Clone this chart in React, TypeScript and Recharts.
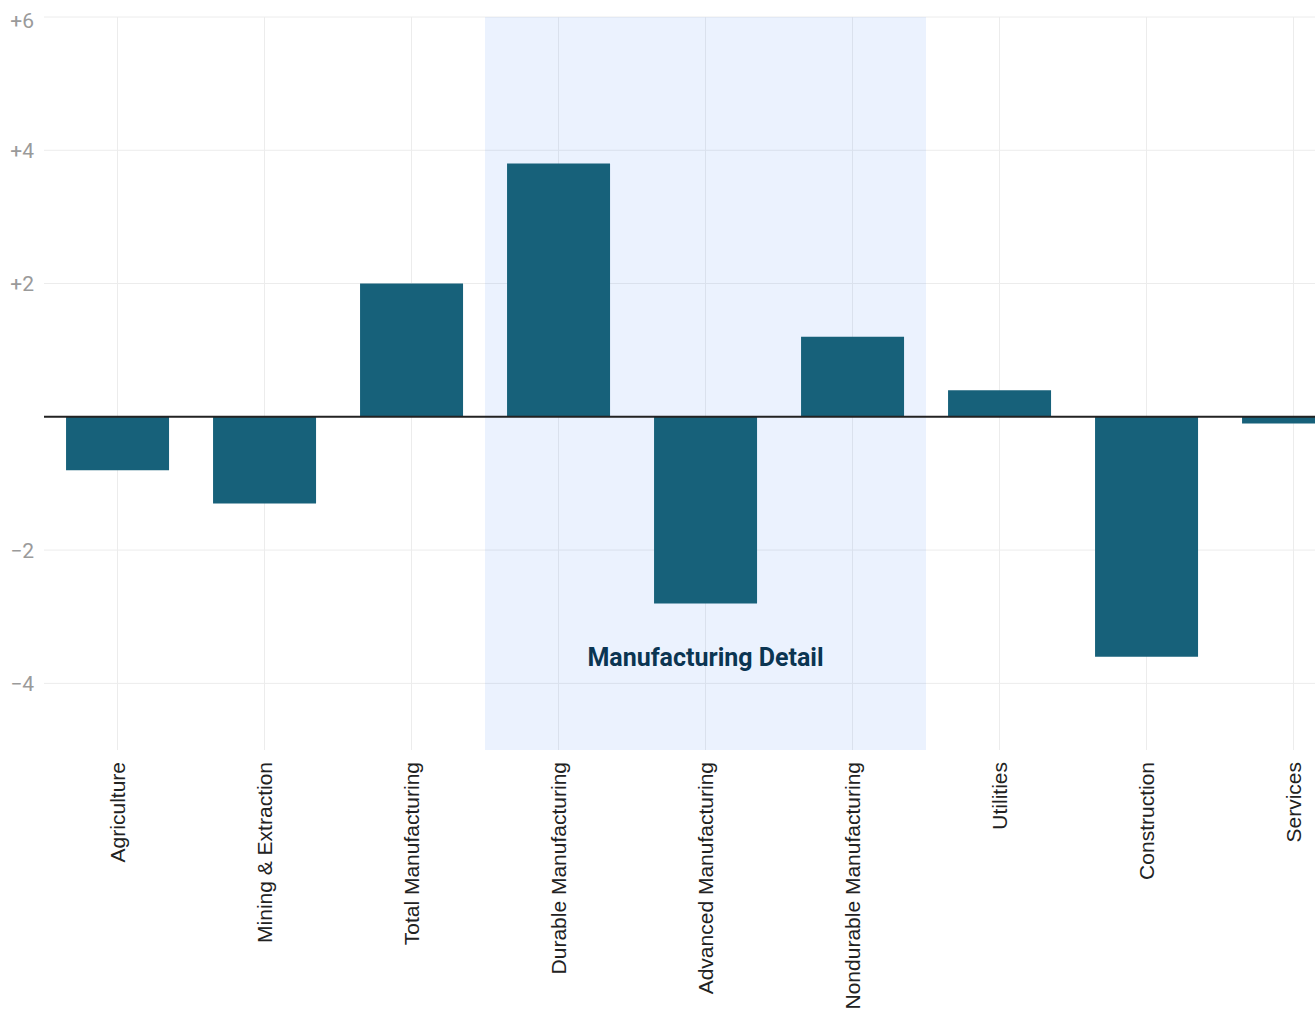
import React from "react";
import { Bar, BarChart, CartesianGrid, ReferenceArea, ReferenceLine, XAxis, YAxis } from "recharts";

const sectors = [
  "Agriculture",
  "Mining & Extraction",
  "Total Manufacturing",
  "Durable Manufacturing",
  "Advanced Manufacturing",
  "Nondurable Manufacturing",
  "Utilities",
  "Construction",
  "Services",
];
const changes = [-0.8, -1.3, 2.0, 3.8, -2.8, 1.2, 0.4, -3.6, -0.1];
const yTicks = [-4, -2, 2, 4, 6];

const data = sectors.map((sector, i) => ({ sector, change: changes[i] }));

const fmt = (v: number) => (v > 0 ? `+${v}` : v < 0 ? `\u2212${Math.abs(v)}` : `${v}`);

function SectorTick({ x, y, payload }: any) {
  return (
    <text
      x={x}
      y={y}
      transform={`rotate(-90, ${x}, ${y})`}
      dx={-4}
      dy="0.35em"
      textAnchor="end"
      fill="#222"
      fontSize={21}
      fontFamily="'Liberation Sans', Arial, sans-serif"
    >
      {payload.value}
    </text>
  );
}

function AreaLabel({ viewBox }: any) {
  const { x, y, width, height } = viewBox;
  return (
    <text
      x={x + width / 2}
      y={y + height - 84}
      textAnchor="middle"
      fill="#0b3552"
      fontSize={25}
      fontWeight={700}
      fontFamily="Roboto, sans-serif"
    >
      Manufacturing Detail
    </text>
  );
}

export default function App() {
  return (
    <div style={{ position: "absolute", left: 8, top: 8, width: 1307, height: 1007, overflow: "hidden" }}>
      <BarChart
        width={1359}
        height={1007}
        data={data}
        margin={{ top: 9, right: 0, bottom: 0, left: 0 }}
        barCategoryGap="15%"
      >
        <ReferenceArea
          x1="Durable Manufacturing"
          x2="Nondurable Manufacturing"
          fill="#3b82f6"
          fillOpacity={0.1}
          stroke="none"
          label={<AreaLabel />}
        />
        <CartesianGrid stroke="#ececec" horizontalValues={yTicks} verticalValues={sectors} />
        <XAxis
          dataKey="sector"
          interval={0}
          axisLine={false}
          tickLine={false}
          height={265}
          tick={<SectorTick />}
        />
        <YAxis
          domain={[-5, 6]}
          ticks={yTicks}
          width={36}
          axisLine={false}
          tickLine={false}
          tickMargin={4}
          tickFormatter={fmt}
          tick={{ fill: "#9a9a9a", fontSize: 21, fontFamily: "Roboto, sans-serif" }}
        />
        <Bar dataKey="change" fill="#17617a" isAnimationActive={false} />
        <ReferenceLine y={0} stroke="#222" strokeWidth={2} />
      </BarChart>
    </div>
  );
}
